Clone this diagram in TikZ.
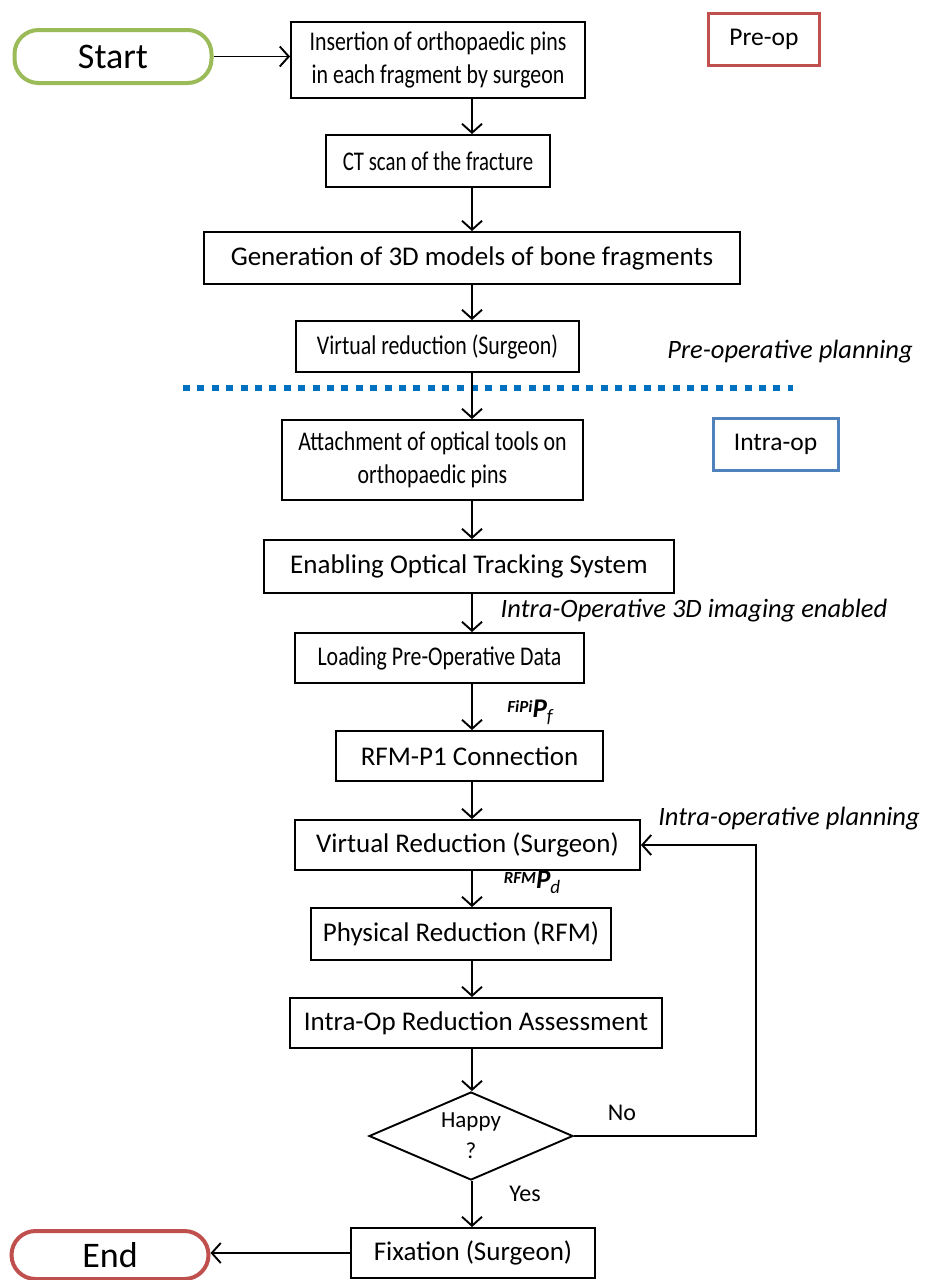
\documentclass[tikz,border=0pt]{standalone}
\usepackage{fontspec}
\setmainfont{Carlito}
\newfontfamily\narrowfont[FakeStretch=0.81]{Carlito}
\usetikzlibrary{arrows.meta,shapes.geometric}
\definecolor{startgreen}{HTML}{9BBB59}
\definecolor{endred}{HTML}{C0504D}
\definecolor{introblue}{HTML}{4F81BD}
\definecolor{dotblue}{HTML}{0070C0}
\begin{document}
\begin{tikzpicture}[x=1pt,y=-1pt,
  stepbox/.style={draw, line width=1.9pt, inner sep=0pt, align=center, font=\fontsize{27}{33}\selectfont},
  narrowbox/.style={stepbox, font=\fontsize{27}{33}\narrowfont},
  pill/.style={draw, line width=4pt, rounded corners=24pt, inner sep=0pt, font=\fontsize{36}{36}\selectfont},
  tagbox/.style={draw, line width=3pt, inner sep=0pt, font=\fontsize{25.5}{25.5}\selectfont},
  note/.style={font=\fontsize{26.5}{26.5}\selectfont\itshape},
  arr/.style={-{Straight Barb[length=9pt,width=20pt,line width=1.9pt]}, line width=1.9pt},
  small/.style={font=\fontsize{24}{24}\selectfont}]
\useasboundingbox (0,0) rectangle (934,1280);
\fill[white] (0,0) rectangle (934,1280);
\coordinate (ax) at (472,0);
\node[pill, draw=startgreen, minimum width=197pt, minimum height=53pt] (start) at (113,56.5) {Start};
\node[narrowbox, minimum width=294pt, minimum height=76pt] (b1) at (438,60) {Insertion of orthopaedic pins\\in each fragment by surgeon};
\node[tagbox, draw=endred, minimum width=111pt, minimum height=52pt] (preop) at (764,39) {Pre-op};
\node[narrowbox, minimum width=224pt, minimum height=52pt, font=\fontsize{27}{33}\narrowfont\addfontfeature{FakeStretch=0.77}] (b2) at (438,161) {CT scan of the fracture};
\node[stepbox, minimum width=536pt, minimum height=52pt] (b3) at (472,258) {Generation of 3D models of bone fragments};
\node[narrowbox, minimum width=283pt, minimum height=51pt] (b4) at (437.5,346.5) {Virtual reduction (Surgeon)};
\node[note] (prepl) at (790,352) {Pre-operative planning};
\draw[dotblue, line width=6pt, dash pattern=on 7pt off 7.4pt] (183,388) -- (793,388);
\node[narrowbox, minimum width=301pt, minimum height=80pt] (b5) at (432.5,460) {Attachment of optical tools on\\orthopaedic pins};
\node[tagbox, draw=introblue, minimum width=125pt, minimum height=52pt] (intraop) at (775.5,444) {Intra-op};
\node[stepbox, minimum width=410pt, minimum height=53pt] (b6) at (469,566.5) {Enabling Optical Tracking System};
\node[note] (img) at (694,611) {Intra-Operative 3D imaging enabled};
\node[narrowbox, minimum width=289pt, minimum height=50pt] (b7) at (439.5,658) {Loading Pre-Operative Data};
\node[inner sep=0pt] (pf) at (530,712) {\raisebox{5pt}{\fontsize{17}{17}\selectfont\bfseries\itshape FiPi}{\fontsize{27}{27}\selectfont\bfseries\itshape P}\raisebox{-5pt}{\fontsize{19}{19}\selectfont\itshape f}};
\node[stepbox, minimum width=267pt, minimum height=50pt] (b8) at (469.5,756) {RFM-P1 Connection};
\node[stepbox, minimum width=345pt, minimum height=50pt] (b9) at (467.5,845) {Virtual Reduction (Surgeon)};
\node[note] (intrapl) at (789,819) {Intra-operative planning};
\node[inner sep=0pt] (pd) at (532,882) {\raisebox{5pt}{\fontsize{17}{17}\selectfont\bfseries\itshape RFM}{\fontsize{27}{27}\selectfont\bfseries\itshape P}\raisebox{-5pt}{\fontsize{19}{19}\selectfont\itshape d}};
\node[stepbox, minimum width=300pt, minimum height=52pt] (b10) at (461,934) {Physical Reduction (RFM)};
\node[stepbox, minimum width=372pt, minimum height=50pt] (b11) at (476,1023) {Intra-Op Reduction Assessment};
\node[draw, diamond, line width=1.9pt, aspect=2.4, inner sep=0pt, minimum width=204pt, minimum height=88pt, align=center, font=\fontsize{23}{31}\selectfont] (dec) at (471,1136) {Happy\\?};
\node[small] (no) at (622,1113) {No};
\node[small] (yes) at (525,1194) {Yes};
\node[stepbox, minimum width=244pt, minimum height=50pt] (fix) at (473,1253) {Fixation (Surgeon)};
\node[pill, draw=endred, minimum width=197pt, minimum height=48pt] (end) at (110,1255) {End};
\coordinate (lp) at (756,0);
% connectors
\draw[arr] (start.east) -- (start.east -| b1.west);
\draw[arr] (b1.south -| ax) -- (b2.north -| ax);
\draw[arr] (b2.south -| ax) -- (b3.north -| ax);
\draw[arr] (b3.south -| ax) -- (b4.north -| ax);
\draw[arr] (b4.south -| ax) -- (b5.north -| ax);
\draw[arr] (b5.south -| ax) -- (b6.north -| ax);
\draw[arr] (b6.south -| ax) -- (b7.north -| ax);
\draw[arr] (b7.south -| ax) -- (b8.north -| ax);
\draw[arr] (b8.south -| ax) -- (b9.north -| ax);
\draw[arr] (b9.south -| ax) -- (b10.north -| ax);
\draw[arr] (b10.south -| ax) -- (b11.north -| ax);
\draw[arr] (b11.south -| ax) -- (dec.north -| ax);
\draw[arr] (dec.south -| ax) -- (fix.north -| ax);
\draw[arr] (dec.east) -- (dec.east -| lp) -- (b9.east -| lp) -- (b9.east);
\draw[arr] (fix.west) -- (fix.west -| end.east);
\end{tikzpicture}
\end{document}
